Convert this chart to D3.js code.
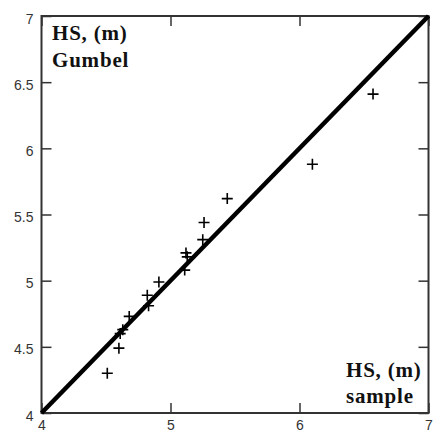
<!DOCTYPE html>
<html>
<head>
<meta charset="utf-8">
<script src="https://cdn.jsdelivr.net/npm/d3@7"></script>
<style>
  html, body { margin: 0; padding: 0; background: #fff; }
  svg { display: block; }
</style>
</head>
<body>
<svg id="chart" width="435" height="435"></svg>
<script>
// Data
const sampleHS = [4.51, 4.60, 4.61, 4.63, 4.68, 4.82, 4.83, 4.91, 5.11, 5.12, 5.13, 5.25, 5.26, 5.44, 6.10, 6.57];
const gumbelHS = [4.30, 4.49, 4.60, 4.63, 4.73, 4.89, 4.81, 4.99, 5.08, 5.21, 5.18, 5.31, 5.44, 5.62, 5.88, 6.41];
const lineX = [4, 7];
const lineY = [4, 7];
const xTicks = [4, 5, 6, 7];
const yTicks = [4, 4.5, 5, 5.5, 6, 6.5, 7];
const yLabelLines = ["HS, (m)", "Gumbel"];
const xLabelLines = ["HS, (m)", "sample"];

const svg = d3.select("#chart");
const pLeft = 41.5, pRight = 428.5, pTop = 16, pBottom = 413;

const x = d3.scaleLinear().domain([4, 7]).range([pLeft, pRight]);
const y = d3.scaleLinear().domain([4, 7]).range([pBottom, pTop]);

const axisColor = "#333";
const tickFont = "'Liberation Sans', Arial, sans-serif";

// Axes with inward ticks
const gB = svg.append("g").attr("transform", `translate(0,${pBottom})`)
  .call(d3.axisBottom(x).tickValues(xTicks).tickSize(-10).tickPadding(7).tickFormat(d3.format("")));
const gT = svg.append("g").attr("transform", `translate(0,${pTop})`)
  .call(d3.axisTop(x).tickValues(xTicks).tickSize(-10).tickFormat(""));
const gL = svg.append("g").attr("transform", `translate(${pLeft},0)`)
  .call(d3.axisLeft(y).tickValues(yTicks).tickSize(-10).tickPadding(8).tickFormat(d3.format("")));
const gR = svg.append("g").attr("transform", `translate(${pRight},0)`)
  .call(d3.axisRight(y).tickValues(yTicks).tickSize(-10).tickFormat(""));

[gB, gT, gL, gR].forEach(g => {
  g.select(".domain").remove();
  g.selectAll(".tick line").attr("stroke", axisColor).attr("stroke-width", 1.5);
  g.selectAll(".tick text").attr("fill", "#333").style("font-family", tickFont).style("font-size", "14px");
});
gL.selectAll(".tick text").attr("dy", "0.5em");

// Frame
svg.append("rect")
  .attr("x", pLeft).attr("y", pTop)
  .attr("width", pRight - pLeft).attr("height", pBottom - pTop)
  .attr("fill", "none").attr("stroke", axisColor).attr("stroke-width", 2);

// Diagonal line
svg.append("line")
  .attr("x1", x(lineX[0])).attr("y1", y(lineY[0]))
  .attr("x2", x(lineX[1])).attr("y2", y(lineY[1]))
  .attr("stroke", "#000").attr("stroke-width", 4.5);

// Plus markers
const pts = sampleHS.map((v, i) => [v, gumbelHS[i]]);
const s = 5.5;
svg.append("g").selectAll("path").data(pts).join("path")
  .attr("d", d => {
    const cx = x(d[0]), cy = y(d[1]);
    return `M${cx - s},${cy}H${cx + s}M${cx},${cy - s}V${cy + s}`;
  })
  .attr("stroke", "#000").attr("stroke-width", 1.6).attr("fill", "none");

// Axis titles
const titleFont = "'Liberation Serif', 'Times New Roman', serif";
function addTitle(lines, tx, ty0, dy) {
  lines.forEach((t, i) => {
    svg.append("text").attr("x", tx).attr("y", ty0 + i * dy)
      .text(t)
      .style("font-family", titleFont).style("font-weight", "bold")
      .style("font-size", "21px").style("letter-spacing", "0.8px")
      .attr("fill", "#111");
  });
}
addTitle(yLabelLines, 52, 40, 27);
addTitle(xLabelLines, 346, 377, 26);
</script>
</body>
</html>
